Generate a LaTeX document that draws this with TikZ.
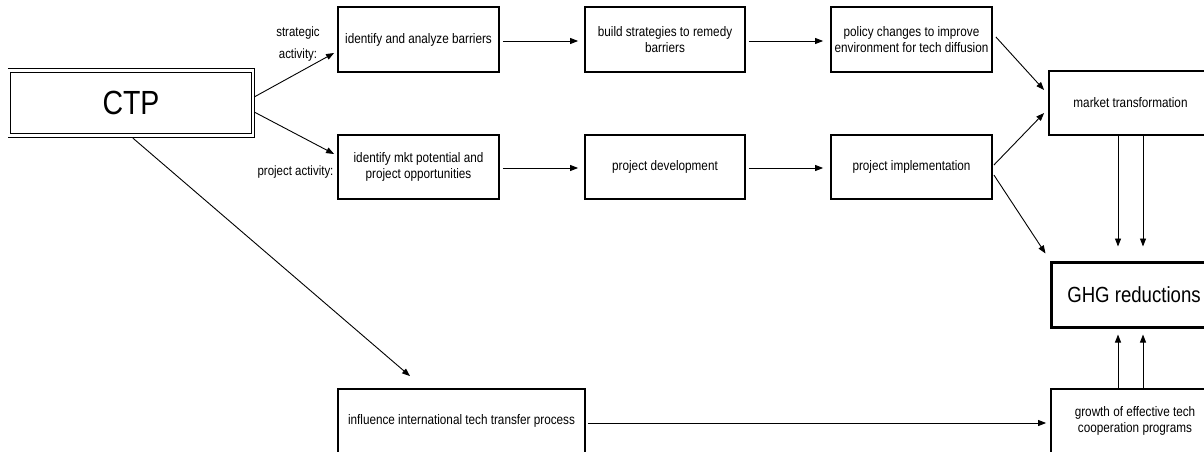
\documentclass[tikz,border=0pt]{standalone}
\usepackage{fontspec}
\setmainfont{Liberation Sans}[FakeStretch=0.85]
\usetikzlibrary{arrows.meta}
\begin{document}
\begin{tikzpicture}[x=1pt,y=1pt,
  box/.style={draw, line width=1.8pt, minimum height=64pt, align=center, inner sep=2pt,
    font=\fontsize{13.8}{16.7}\selectfont},
  arr/.style={-{Triangle[length=8pt,width=6pt]}, line width=0.9pt},
  lbl/.style={align=center, inner sep=0pt, font=\fontsize{13.5}{22}\selectfont},
  thinframe/.style={line width=1.3pt}
]
\useasboundingbox (0,0) rectangle (1204,-452);

% CTP
\node[minimum width=246pt, minimum height=68pt, inner sep=0pt, font=\fontsize{33.5}{36}\selectfont] (CTP) at (131,-103) {CTP};
\draw[thinframe] (CTP.north west) -- (CTP.north east) -- (CTP.south east) -- (CTP.south west);
\draw[thinframe] ([shift={(3pt,-4pt)}]CTP.north west) rectangle ([shift={(-3pt,4pt)}]CTP.south east);

% row 1
\node[box, minimum width=161pt, minimum height=65pt] (b1) at (418.5,-39.5) {identify and analyze barriers};
\node[box, minimum width=160pt, minimum height=65pt] (b2) at (665,-39.5) {build strategies to remedy\\barriers};
\node[box, minimum width=161pt, minimum height=65pt] (b3) at (911.5,-39.5) {policy changes to improve\\environment for tech diffusion};

% row 2
\node[box, minimum width=161pt] (a1) at (418.5,-167) {identify mkt potential and\\project opportunities};
\node[box, minimum width=160pt] (a2) at (665,-167) {project development};
\node[box, minimum width=161pt] (a3) at (911.5,-167) {project implementation};

% right column
\node[box, minimum width=163pt] (mkt) at (1130.5,-103) {market transformation};
\node[box, minimum width=166pt, minimum height=65pt, line width=3pt, font=\fontsize{21.9}{24}\selectfont] (ghg) at (1134,-294.5) {GHG reductions};
\node[box, minimum width=168pt] (grow) at (1135,-421) {growth of effective tech\\cooperation programs};

% bottom
\node[box, minimum width=247pt] (infl) at (461.5,-421) {influence international tech transfer process};

% labels
\node[lbl] (lstrat) at (298,-44) {strategic\\activity:};
\node[lbl] (lproj) at (295.5,-172) {project activity:};

% arrows from CTP
\draw[arr] ([yshift=6pt]CTP.east) -- ([xshift=-3pt,yshift=-13.5pt]b1.west);
\draw[arr] ([yshift=-9pt]CTP.east) -- ([xshift=-3pt,yshift=13pt]a1.west);
\draw[arr] ([xshift=2pt,yshift=-1pt]CTP.south) -- ([xshift=-51.5pt,yshift=12pt]infl.north);

% horizontal arrows
\draw[arr, shorten <=3pt, shorten >=6pt] ([yshift=-1.5pt]b1.east) -- ([yshift=-1.5pt]b2.west);
\draw[arr, shorten <=3pt, shorten >=7pt] ([yshift=-1.5pt]b2.east) -- ([yshift=-1.5pt]b3.west);
\draw[arr, shorten <=3pt, shorten >=6pt] ([yshift=-1pt]a1.east) -- ([yshift=-1pt]a2.west);
\draw[arr, shorten <=3pt, shorten >=7pt] ([yshift=-1pt]a2.east) -- ([yshift=-1pt]a3.west);
\draw[arr, shorten <=2pt, shorten >=4pt] ([yshift=-2pt]infl.east) -- ([yshift=-2pt]grow.west);

% to market transformation and GHG
\draw[arr] ([xshift=3pt,yshift=2.5pt]b3.east) -- ([xshift=-4pt,yshift=13pt]mkt.west);
\draw[arr] ([xshift=1pt,yshift=2pt]a3.east) -- ([xshift=-4pt,yshift=-10pt]mkt.west);
\draw[arr] ([xshift=1pt,yshift=-8pt]a3.east) -- ([xshift=-4pt,yshift=7pt]ghg.north west);

% vertical arrows
\coordinate (vx1) at (1118,0);
\coordinate (vx2) at (1143,0);
\draw[arr, shorten >=14pt] (mkt.south -| vx1) -- (ghg.north -| vx1);
\draw[arr, shorten >=14pt] (mkt.south -| vx2) -- (ghg.north -| vx2);
\draw[arr, shorten >=6pt] (grow.north -| vx1) -- (ghg.south -| vx1);
\draw[arr, shorten >=6pt] (grow.north -| vx2) -- (ghg.south -| vx2);
\end{tikzpicture}
\end{document}
